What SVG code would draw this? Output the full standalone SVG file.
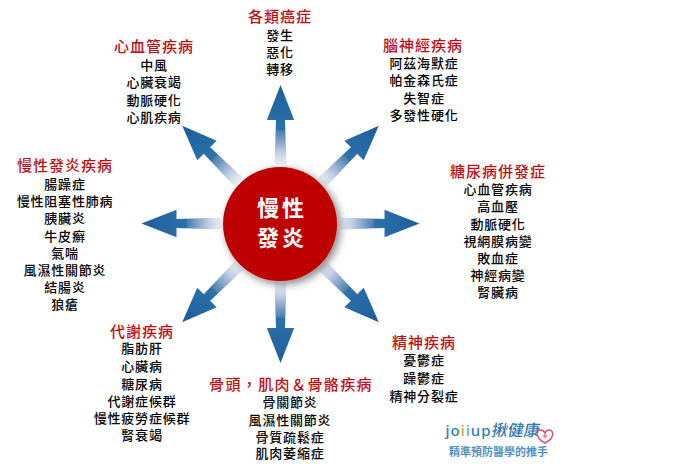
<svg xmlns="http://www.w3.org/2000/svg" xmlns:xlink="http://www.w3.org/1999/xlink" width="700" height="467" viewBox="0 0 700 467">
<style>
text{font-family:"Noto Sans CJK TC","Noto Sans CJK SC",sans-serif;text-anchor:middle}
.t{font-size:15px;fill:#c00d14;font-weight:500;letter-spacing:1px}
.i{font-size:13px;fill:#000;font-weight:500;letter-spacing:.8px}
.c{font-size:22px;fill:#fff;font-weight:700;letter-spacing:3px}
</style>
<defs>
<linearGradient id="g" x1="0" y1="1" x2="0" y2="0">
<stop offset="0" stop-color="#eef2f8"/><stop offset=".15" stop-color="#c3d1e4"/><stop offset=".43" stop-color="#4b7db1"/><stop offset=".435" stop-color="#2d72ab"/><stop offset="1" stop-color="#1b5e9c"/>
</linearGradient>
<polygon id="arrow" fill="url(#g)" points="0,-139 13.700,-104 4.500,-104 6,-59 -6,-59 -4.500,-104 -13.700,-104"/>
<filter id="csh" x="-25%" y="-25%" width="150%" height="150%"><feDropShadow dx="3" dy="3" stdDeviation="4" flood-color="#000" flood-opacity=".5"/></filter>
</defs>
<rect width="700" height="467" fill="#fff"/>
<g id="connectors">
<use href="#arrow" transform="translate(280.500,224)"/>
<use href="#arrow" transform="translate(280.500,224) rotate(45)"/>
<use href="#arrow" transform="translate(280.500,223.500) rotate(90)"/>
<use href="#arrow" transform="translate(280.500,224) rotate(135)"/>
<use href="#arrow" transform="translate(280.500,224) rotate(180)"/>
<use href="#arrow" transform="translate(280.500,224) rotate(225)"/>
<use href="#arrow" transform="translate(280.500,223.500) rotate(270)"/>
<use href="#arrow" transform="translate(280.500,224) rotate(315)"/>
</g>
<g id="center"><circle cx="280" cy="224" r="57" fill="#bf0000" filter="url(#csh)"/>
<text class="c" x="282" y="216">慢性</text><text class="c" x="282" y="246">發炎</text></g>
<g id="cancer"><text class="t" x="280" y="22">各類癌症</text><text class="i" x="280" y="40">發生</text><text class="i" x="280" y="57">惡化</text><text class="i" x="280" y="74">轉移</text></g>
<g id="cardio"><text class="t" x="154" y="52">心血管疾病</text><text class="i" x="154" y="70">中風</text><text class="i" x="154" y="87">心臟衰竭</text><text class="i" x="154" y="105">動脈硬化</text><text class="i" x="154" y="122">心肌疾病</text></g>
<g id="brain"><text class="t" x="423" y="51">腦神經疾病</text><text class="i" x="424" y="68">阿茲海默症</text><text class="i" x="424" y="85">帕金森氏症</text><text class="i" x="424" y="103">失智症</text><text class="i" x="424" y="120">多發性硬化</text></g>
<g id="diabetes"><text class="t" x="498" y="177">糖尿病併發症</text><text class="i" x="498" y="194">心血管疾病</text><text class="i" x="498" y="211">高血壓</text><text class="i" x="498" y="229">動脈硬化</text><text class="i" x="498" y="246">視網膜病變</text><text class="i" x="498" y="263">敗血症</text><text class="i" x="498" y="280">神經病變</text><text class="i" x="498" y="297">腎臟病</text></g>
<g id="inflammatory"><text class="t" x="65" y="171">慢性發炎疾病</text><text class="i" x="65" y="189">腸躁症</text><text class="i" x="65" y="206">慢性阻塞性肺病</text><text class="i" x="65" y="223">胰臟炎</text><text class="i" x="65" y="241">牛皮癬</text><text class="i" x="65" y="258">氣喘</text><text class="i" x="65" y="275">風濕性關節炎</text><text class="i" x="65" y="292">結腸炎</text><text class="i" x="65" y="309">狼瘡</text></g>
<g id="metabolic"><text class="t" x="142" y="337">代謝疾病</text><text class="i" x="142" y="353">脂肪肝</text><text class="i" x="142" y="371">心臟病</text><text class="i" x="142" y="389">糖尿病</text><text class="i" x="142" y="406">代謝症候群</text><text class="i" x="142" y="423">慢性疲勞症候群</text><text class="i" x="142" y="440">腎衰竭</text></g>
<g id="bone"><text class="t" x="291" y="390" style="letter-spacing:1.400px">骨頭，肌肉＆骨骼疾病</text><text class="i" x="290" y="407">骨關節炎</text><text class="i" x="290" y="425">風濕性關節炎</text><text class="i" x="290" y="442">骨質疏鬆症</text><text class="i" x="290" y="458">肌肉萎縮症</text></g>
<g id="mental"><text class="t" x="424" y="348">精神疾病</text><text class="i" x="424" y="365">憂鬱症</text><text class="i" x="424" y="383">躁鬱症</text><text class="i" x="424" y="401">精神分裂症</text></g>
<g id="logo"><text x="468.500" y="436" style="font-family:'Noto Sans',sans-serif;font-size:15px;font-weight:500;fill:#2f7db5;letter-spacing:1px">jo<tspan fill="#e79a3a">i</tspan><tspan fill="#4fb59a">i</tspan>up</text><text transform="translate(515,436) skewX(-10)" style="font-size:16px;font-weight:500;fill:#2f78b4">揪健康</text><path d="M545 443c-10-5-9-13-4-13 2 0 3 1 4 3 1-2 2-3 4-3 5 0 6 8-4 13z" fill="#fff" stroke="#e2506a" stroke-width="1.500"/><path d="M542.500 436h5M545 433.500v5" stroke="#e2506a" stroke-width="1"/><text x="498.500" y="456" style="font-size:11px;font-weight:700;fill:#4f93c4">精準預防醫學的推手</text></g>
</svg>
